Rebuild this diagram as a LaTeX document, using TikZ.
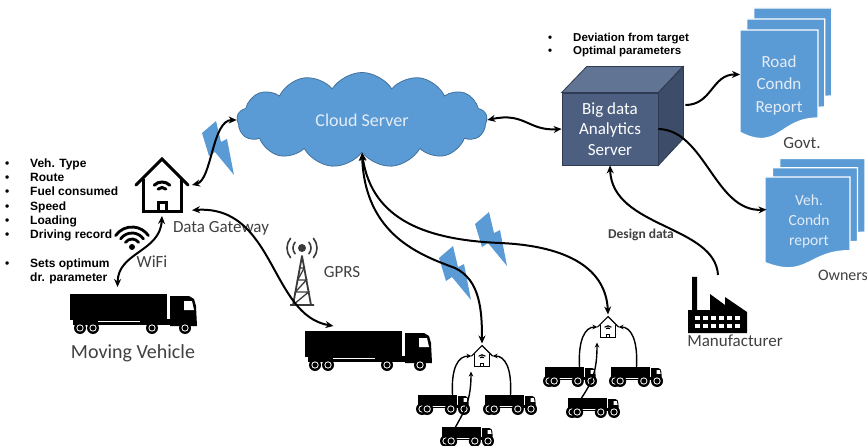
\documentclass[tikz,border=0pt]{standalone}
\usepackage{fontspec}
\setmainfont{Carlito}
\newfontfamily\arialfont{Liberation Sans}
\usepackage{tikz}
\usetikzlibrary{shapes.symbols, arrows.meta, positioning}
\definecolor{iotblue}{HTML}{5B9BD5}
\definecolor{iotedge}{HTML}{41719C}
\definecolor{srvfront}{HTML}{4D5F80}
\definecolor{srvtop}{HTML}{617493}
\definecolor{srvside}{HTML}{3D4C68}
\definecolor{srvedge}{HTML}{2F3B52}
\definecolor{labelgray}{HTML}{404040}
\definecolor{towergray}{HTML}{3A3A3A}
\definecolor{paletext}{HTML}{E4ECF6}

\begin{document}
\begin{tikzpicture}[x=1pt, y=-1pt,
    slot/.style={inner sep=0pt, outer sep=0pt},
    lbl/.style={font=\fontsize{17}{19}\selectfont, text=labelgray},
    bullets/.style={font=\arialfont\bfseries\fontsize{12}{14.3}\selectfont, inner sep=0pt, anchor=north west},
    link/.style={line width=2pt, -{Stealth[length=8pt, width=7pt]}},
    bilink/.style={line width=2pt, {Stealth[length=8pt, width=7pt]}-{Stealth[length=8pt, width=7pt]}},
    small link/.style={line width=1.4pt, -{Stealth[length=5pt, width=4.5pt]}},
    house line/.style={line width=3pt},
    wheel/.pic={\fill (0,0) circle (6); \fill[white] (0,0) circle (3.6); \fill (0,0) circle (2.6);},
    truck/.pic={
        \fill (0,1) rectangle (97,27);
        \fill (3,26) rectangle (126,32);
        \fill[white] (28,27.5) rectangle (70,29);
        \fill (100,3) -- (119,3) -- (124,6) -- (126,13) -- (127,33) -- (100,33) -- cycle;
        \fill[white] (114,8) -- (122,8) -- (124,17) -- (114,17) -- cycle;
        \pic at (10,35) {wheel}; \pic at (23,35) {wheel};
        \pic at (82,35) {wheel}; \pic at (115,35) {wheel};
    },
    house/.pic={
        \draw[house line, line cap=round] (-26,0) -- (0,-26) -- (26,0);
        \draw[house line] (-19,-6) -- (-19,27) -- (19,27) -- (19,-6);
        \draw[house line] (-4,27) -- (-4,18) -- (4,18) -- (4,27);
        \draw[house line, line cap=round] (0,8) ++(225:11) arc[start angle=225, end angle=315, radius=11];
        \draw[house line, line cap=round] (0,8) ++(225:5.5) arc[start angle=225, end angle=315, radius=5.5];
    },
    bolt/.pic={\fill[iotblue] (0,12) -- (14,0) -- (19,21) -- (25,18) -- (32,54) -- (13,31) -- (7,35) -- cycle;},
    docpage/.style={fill=iotblue, draw=white, line width=1.2pt},
    docstack/.pic={
        \path[docpage] (14,-20) -- (94,-20) -- (94,60) .. controls (54,60) and (54,91) .. (14,73) -- cycle;
        \path[docpage] (7,-10) -- (87,-10) -- (87,70) .. controls (47,70) and (47,101) .. (7,83) -- cycle;
        \path[docpage] (0,0) -- (80,0) -- (80,80) .. controls (40,80) and (40,111) .. (0,93) -- cycle;
    }
]
\useasboundingbox (0,0) rectangle (867,446);

% lightning for the wireless hops
\pic at (202,121) {bolt};
\pic at (439,246) {bolt};
\pic at (475,212) {bolt};

% Cloud server
\node[cloud, cloud puffs=13, cloud puff arc=115, aspect=2.6, fill=iotblue, draw=iotedge, line width=0.8pt,
      minimum width=250pt, minimum height=95pt, text=paletext, font=\fontsize{18}{20}\selectfont] (cloud) at (362,120) {Cloud Server};

% Big data server as a box
\node[fill=srvfront, draw=srvedge, line width=0.8pt, minimum width=96pt, minimum height=72pt, text=white,
      align=center, font=\fontsize{17}{20.5}\selectfont] (bigdata) at (610,129) {Big data\\Analytics\\Server};
\fill[srvtop, draw=srvedge, line width=0.8pt] (bigdata.north west) -- ++(25,-26) -- ++(96,0) -- (bigdata.north east) -- cycle;
\fill[srvside, draw=srvedge, line width=0.8pt] (bigdata.north east) -- ++(25,-26) -- ++(0,72) -- (bigdata.south east) -- cycle;
\node[bullets, font=\arialfont\bfseries\fontsize{11.5}{13}\selectfont] (bdinfo) at (548,32) {%
  \begin{tabular}{@{}p{25pt}@{}l@{}}
  \textbullet & Deviation from target\\
  \textbullet & Optimal parameters
  \end{tabular}};

% Reports
\pic[xscale=.975, yscale=1.1] at (740,30) {docstack};
\node[slot, minimum width=78pt, minimum height=110pt, text=paletext, align=center,
      font=\fontsize{17}{22.5}\selectfont] (road) at (779,85) {Road\\Condn\\Report};
\node[lbl] (govt) at (802,143) {Govt.};
\pic[xscale=1.0625, yscale=.92] at (765,177) {docstack};
\node[slot, minimum width=85pt, minimum height=92pt, text=paletext, align=center,
      font=\fontsize{15.5}{20}\selectfont] (veh) at (809,221) {Veh.\\Condn\\report};
\node[lbl, font=\fontsize{16}{18}\selectfont] (owners) at (843,275) {Owners};

% Data gateway and the vehicle on WiFi
\node[slot, minimum width=60pt, minimum height=62pt] (gw) at (162,185) {};
\pic at (gw) {house};
\node[lbl] (gwlabel) at (221,228) {Data Gateway};
\node[bullets] (vehinfo) at (5,157) {%
  \begin{tabular}{@{}p{25pt}@{}l@{}}
  \textbullet & Veh. Type\\
  \textbullet & Route\\
  \textbullet & Fuel consumed\\
  \textbullet & Speed\\
  \textbullet & Loading\\
  \textbullet & Driving record\\
  & \\
  \textbullet & Sets optimum\\
  & dr. parameter
  \end{tabular}};
\fill (132,247) circle (3);
\draw[line width=2.8pt, line cap=round] (132,247) ++(215:8) arc[start angle=215, end angle=325, radius=8];
\draw[line width=2.8pt, line cap=round] (132,247) ++(215:14) arc[start angle=215, end angle=325, radius=14];
\draw[line width=2.8pt, line cap=round] (132,247) ++(215:20) arc[start angle=215, end angle=325, radius=20];
\node[lbl] (wifi) at (152,262) {WiFi};
\node[slot, minimum width=127pt, minimum height=41pt, anchor=north west] (mv) at (70,293) {};
\pic at (mv.north west) {truck};
\node[lbl, font=\fontsize{20}{22}\selectfont] (mvlabel) at (133,353) {Moving Vehicle};

% GPRS tower and truck
\fill[towergray] (302,248) circle (4);
\draw[towergray, line width=1.6pt, line cap=round] (302,248) ++(140:9) arc[start angle=140, end angle=220, radius=9];
\draw[towergray, line width=1.6pt, line cap=round] (302,248) ++(140:15) arc[start angle=140, end angle=220, radius=15];
\draw[towergray, line width=1.6pt, line cap=round] (302,248) ++(-40:9) arc[start angle=-40, end angle=40, radius=9];
\draw[towergray, line width=1.6pt, line cap=round] (302,248) ++(-40:15) arc[start angle=-40, end angle=40, radius=15];
\draw[towergray, line width=1.8pt, line join=round] (293,305) -- (302,256) -- (311,305) (290,305) -- (314,305);
\draw[towergray, line width=1.3pt] (299.8,268) -- (304.2,268) -- (297.6,280) -- (306.4,280) -- (295.4,292) -- (308.6,292) -- (293,305);
\node[lbl] (gprs) at (342,272) {GPRS};
\node[slot, minimum width=127pt, minimum height=41pt, anchor=north west] (tr2) at (305,330) {};
\pic at (tr2.north west) {truck};

% Fleet gateways
\node[slot, minimum width=21pt, minimum height=25pt] (sh1) at (482,356) {};
\pic[scale=.4, house line/.style={line width=1.2pt}] at (sh1) {house};
\node[slot, minimum width=51pt, minimum height=16pt, anchor=north west] (a1) at (418,395) {};
\node[slot, minimum width=51pt, minimum height=16pt, anchor=north west] (b1) at (485,395) {};
\node[slot, minimum width=51pt, minimum height=16pt, anchor=north west] (c1) at (442,427) {};
\pic[scale=.4] at (a1.north west) {truck};
\pic[scale=.4] at (b1.north west) {truck};
\pic[scale=.4] at (c1.north west) {truck};

\node[slot, minimum width=21pt, minimum height=25pt] (sh2) at (608,327) {};
\pic[scale=.4, house line/.style={line width=1.2pt}] at (sh2) {house};
\node[slot, minimum width=51pt, minimum height=16pt, anchor=north west] (a2) at (545,367) {};
\node[slot, minimum width=51pt, minimum height=16pt, anchor=north west] (b2) at (611,367) {};
\node[slot, minimum width=51pt, minimum height=16pt, anchor=north west] (c2) at (568,398) {};
\pic[scale=.4] at (a2.north west) {truck};
\pic[scale=.4] at (b2.north west) {truck};
\pic[scale=.4] at (c2.north west) {truck};

% Manufacturer
\node[slot, minimum width=60pt, minimum height=58pt] (factory) at (718,304) {};
\fill (688,333) -- (688,310) -- (692,310) -- (692,277) -- (697,277) -- (697,310) -- (710,310) -- (710,294)
   -- (725,305) -- (725,297) -- (747,312) -- (747,333) -- cycle;
\draw[white, line width=4pt, dash pattern=on 5pt off 3pt] (695,318) -- (741,318) (695,326) -- (741,326);
\node[lbl] (mfr) at (735,341) {Manufacturer};
\node[lbl, font=\bfseries\fontsize{13.5}{15}\selectfont] (design) at (641,235) {Design data};

% Connections
\draw[bilink] (gw.east) .. controls (212,180) and (212,120) .. (cloud.west);
\draw[bilink] (gw.south) .. controls (160,252) and (118,252) .. ([xshift=-16pt, yshift=6pt]mv.north);
\draw[bilink] (gw.-40) .. controls (275,205) and (270,315) .. ([xshift=-35pt, yshift=4pt]tr2.north);
\draw[bilink] (cloud.east) .. controls (525,112) and (528,131) .. (bigdata.west);
\draw[bilink] (cloud.south) .. controls (365,235) and (420,255) .. (455,268) .. controls (480,280) and (482,310) .. (sh1.north);
\draw[bilink] (cloud.south) .. controls (372,222) and (430,240) .. (500,243) .. controls (570,246) and (606,270) .. (sh2.north);
\draw[link] ([xshift=27pt, yshift=24pt]bigdata.east) .. controls (712,105) and (712,74) .. (road.165);
\draw[link] (bigdata.east) .. controls (705,130) and (715,212) .. (veh.165);
\draw[link] (factory.north) .. controls (715,225) and (612,228) .. (bigdata.south);

% trucks to fleet gateways
\draw[small link] ([xshift=9pt]a1.north) .. controls (451,368) and (458,356) .. (sh1.west);
\draw[small link] (b1.north) .. controls (512,368) and (505,356) .. (sh1.east);
\draw[small link] ([xshift=-12pt]c1.north) .. controls (465,410) and (471,400) .. ([xshift=-11pt, yshift=-3pt]sh1.south);
\draw[small link] ([xshift=9pt]a2.north) .. controls (578,340) and (585,327) .. (sh2.west);
\draw[small link] (b2.north) .. controls (638,340) and (631,327) .. (sh2.east);
\draw[small link] ([xshift=-12pt]c2.north) .. controls (592,382) and (597,372) .. ([xshift=-11pt, yshift=-3pt]sh2.south);

\end{tikzpicture}
\end{document}
